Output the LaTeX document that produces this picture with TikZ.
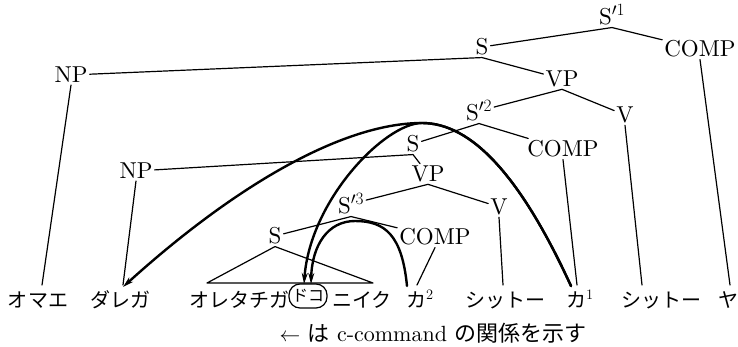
\documentclass[tikz,border=0pt]{standalone}
\usepackage{fontspec}
\setmainfont{lmroman10-regular}[Extension=.otf]
\newfontfamily\jp{Noto Sans CJK JP}
\usetikzlibrary{arrows.meta}
\tikzset{
  cat/.style={font=\fontsize{23}{27}\selectfont, inner sep=2pt},
  word/.style={font=\jp\fontsize{20}{24}\selectfont, anchor=base, inner sep=0pt},
  branch/.style={line width=1.2pt},
  ccom/.style={line width=2.4pt, -{Stealth[length=11pt,width=6pt]}}
}
\begin{document}
\begin{tikzpicture}[line join=round, line cap=round, x=1pt, y=-1pt]
\useasboundingbox (0,0) rectangle (738,346);
% 1. Các nút của cây
\node[cat] (sb1) at (612,15) {$\mathrm{S}^{\prime 1}$};
\node[cat] (s1) at (482,47) {S};
\node[cat] (comp1) at (700,49) {COMP};
\node[cat] (np1) at (71,75) {NP};
\node[cat] (vp1) at (562,79) {VP};
\node[cat] (sb2) at (479,111) {$\mathrm{S}^{\prime 2}$};
\node[cat] (v1) at (625,115) {V};
\node[cat] (s2) at (413,144) {S};
\node[cat] (comp2) at (563,149) {COMP};
\node[cat] (np2) at (136,171) {NP};
\node[cat] (vp2) at (428,174) {VP};
\node[cat] (sb3) at (351,204) {$\mathrm{S}^{\prime 3}$};
\node[cat] (v2) at (499,207) {V};
\node[cat] (s3) at (275,236) {S};
\node[cat] (comp3) at (435,237) {COMP};

% 2. Hàng chữ ở dưới
\node[word] (omae) at (38,307) {オマエ};
\node[word] (dare) at (120,307) {ダレガ};
\node[word] (oretachi) at (239,307) {オレタチガ};
\node[draw, line width=1.2pt, rounded corners=11pt, inner xsep=3pt,
  minimum height=24pt, font=\jp\fontsize{16}{18}\selectfont] (doko) at (308,296) {ドコ};
\node[word] (niiku) at (362,307) {ニイク};
\node[word, anchor=base west] (ka2) at (406,307) {カ$^2$};
\node[word] (shito1) at (505,307) {シットー};
\node[word, anchor=base west] (ka1) at (566,307) {カ$^1$};
\node[word] (shito2) at (661,307) {シットー};
\node[word] (ya) at (728,307) {ヤ};
\node[font=\fontsize{22}{26}\selectfont] (note) at (433,333)
  {$\leftarrow$ {\jp は} c-command {\jp の関係を示す}};

% Đầu dưới của các nhánh
\coordinate (omae-t) at (42,285);
\coordinate (dare-t) at (123,285);
\coordinate (ka2-t) at (417,285);
\coordinate (shito1-t) at (503,285);
\coordinate (ka1-t) at (577,285);
\coordinate (shito2-t) at (642,285);
\coordinate (ya-t) at (730,285);
\coordinate (tri-l) at (207,283);
\coordinate (tri-r) at (373,283);

% 3. Các nhánh của cây
\draw[branch] (s1) -- (sb1.south) -- (comp1);
\draw[branch] (np1) -- (s1.south) -- (vp1);
\draw[branch] (sb2) -- (vp1.south) -- (v1);
\draw[branch] (s2) -- (sb2.south) -- (comp2);
\draw[branch] (np2) -- (s2.south) -- (vp2);
\draw[branch] (sb3) -- (vp2.south) -- (v2);
\draw[branch] (s3) -- (sb3.south) -- (comp3);
\draw[branch] (tri-l) -- (s3.south) -- (tri-r) -- cycle;
\draw[branch] (np1.south) -- (omae-t);
\draw[branch] (np2.south) -- (dare-t);
\draw[branch] (comp3.south) -- (ka2-t);
\draw[branch] (v2.south) -- (shito1-t);
\draw[branch] (comp2.south) -- (ka1-t);
\draw[branch] (v1.south) -- (shito2-t);
\draw[branch] (comp1.south) -- (ya-t);

% 4. Các mũi tên c-command
\coordinate (a1) at (571,286);
\coordinate (a2) at (407,286);
\coordinate (top1) at (422,123);
\coordinate (top2) at (355,221);
\coordinate (dare-h) at (123,287);
\coordinate (doko-l) at (304,284);
\coordinate (doko-r) at (311,284);
\draw[ccom] (a1) .. controls (521,177) and (472,123) .. (top1)
  .. controls (340,123) and (230,190) .. (dare-h);
\draw[ccom] (a1) .. controls (521,177) and (472,123) .. (top1)
  .. controls (385,123) and (310,200) .. (doko-l);
\draw[ccom] (a2) .. controls (402,235) and (385,221) .. (top2)
  .. controls (328,221) and (312,245) .. (doko-r);
\end{tikzpicture}
\end{document}
